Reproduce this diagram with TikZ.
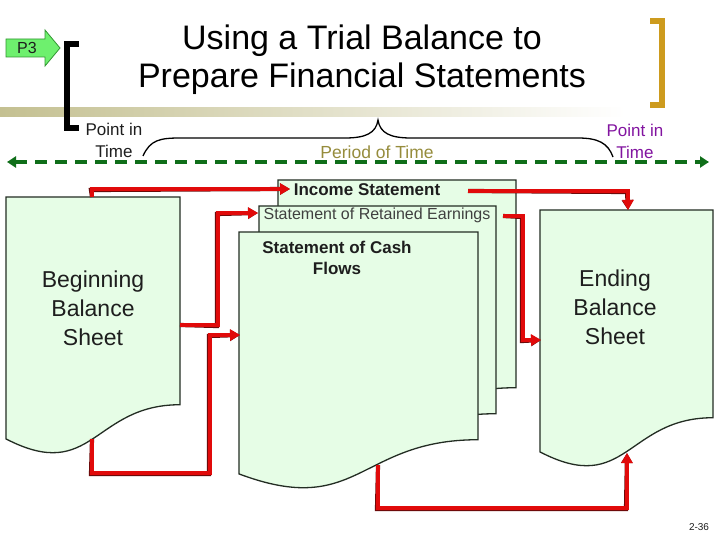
\documentclass[tikz,border=0pt]{standalone}
\usepackage{fontspec}
\setmainfont{Liberation Sans}
\usetikzlibrary{arrows.meta}
\definecolor{docfill}{RGB}{230,253,230}
\definecolor{docline}{RGB}{35,45,35}
\definecolor{redarr}{RGB}{225,10,10}
\definecolor{redshadow}{RGB}{110,10,10}
\definecolor{dgreen}{RGB}{15,110,25}
\definecolor{pgreen}{RGB}{110,240,110}
\definecolor{pgreenline}{RGB}{50,150,50}
\definecolor{gold}{RGB}{205,155,30}
\definecolor{olivetext}{RGB}{150,140,60}
\definecolor{purp}{RGB}{130,20,160}
\definecolor{khaki}{RGB}{196,192,145}
\definecolor{txt}{RGB}{30,30,30}
\newcommand\fsz[2]{\fontsize{#1}{#2}\selectfont}
% document shape: left x, top y, width, total height
\newcommand\docshape[4]{\filldraw[docstyle] (#1,#2) -- (#1+#3,#2) -- (#1+#3,#2+0.802*#4) .. controls (#1+0.5*#3,#2+0.802*#4) and (#1+0.5*#3,#2+1.1075*#4) .. (#1,#2+0.934*#4) -- cycle;}
\newcommand\redconn[1]{\draw[redshade] #1; \draw[redline] #1;}
\tikzset{
  docstyle/.style={fill=docfill, draw=docline, line width=1.3pt, line join=miter},
  redline/.style={line width=4.2pt, draw=redarr, -{Triangle[length=10pt,width=11pt]}},
  redshade/.style={line width=4.2pt, draw=redshadow, -{Triangle[length=10pt,width=11pt]}, xshift=-1pt, yshift=-1pt},
  doctext/.style={text=txt, align=center, inner sep=0pt},
}
\begin{document}
\begin{tikzpicture}[x=1pt,y=-1pt]
\useasboundingbox (0,0) rectangle (720,540);
\fill[white] (0,0) rectangle (720,540);

% khaki band
\shade[left color=khaki, middle color=khaki!55, right color=white] (0,108) rectangle (625,117);

% brackets
\draw[black, line width=6pt] (79,44) -- (66.5,44) -- (66.5,128) -- (79,128);
\draw[gold, line width=6pt] (650,21) -- (662,21) -- (662,105) -- (650,105);

% P3 arrow
\filldraw[fill=pgreen, draw=pgreenline, line width=0.8pt] (6,39) -- (45,39) -- (45,30) -- (60,48) -- (45,66) -- (45,57) -- (6,57) -- cycle;
\node[text=txt, inner sep=0pt, font=\fsz{16}{18}] (p3) at (27,48) {P3};

% title
\node[align=center, inner sep=0pt, font=\fsz{34}{38}] (title) at (362,60) {Using a Trial Balance to\\Prepare Financial Statements};

% time labels
\node[align=center, inner sep=0pt, text=txt, font=\fsz{17}{22}] (pitl) at (114,140) {Point in\\Time};
\node[align=center, inner sep=0pt, text=purp, font=\fsz{17}{22}] (pitr) at (635,141) {Point in\\Time};
\node[inner sep=0pt, text=olivetext, font=\fsz{17.5}{20}] (pot) at (377,152) {Period of Time};

% brace
\draw[black, line width=1.3pt] (143,156) .. controls (150,140) and (160,138) .. (180,138) -- (345,138) .. controls (366,138) and (376,133) .. (378,120) .. controls (380,133) and (390,138) .. (411,138) -- (578,138) .. controls (598,138) and (608,143) .. (613,157);

% time line
\coordinate (tl) at (7,162);
\coordinate (tr) at (709,162);
\draw[dgreen, line width=4pt, dash pattern=on 12pt off 8pt, {Triangle[length=9pt,width=11pt]}-{Triangle[length=9pt,width=11pt]}] (tl) -- (tr);

% stacked statements
\docshape{278}{180}{238}{259}
\docshape{259}{206}{237}{259}
\docshape{239}{232}{239}{259}
\node[doctext, font=\bfseries\fsz{17}{20}] (inc) at (367,190) {Income Statement};
\node[doctext, text=txt!85!white, font=\fsz{16}{18}] (ret) at (377,215) {Statement of Retained Earnings};
\node[doctext, font=\bfseries\fsz{17}{21}] (cash) at (337,257.5) {Statement of Cash\\Flows};

% balance sheets
\docshape{6}{197}{174}{259}
\docshape{540}{210}{173}{259}
\node[doctext, font=\fsz{23}{29}] (bbs) at (93,308) {Beginning\\Balance\\Sheet};
\node[doctext, font=\fsz{23}{29}] (ebs) at (615,307) {Ending\\Balance\\Sheet};

% connector points
\coordinate (bbsTop) at (92,197);
\coordinate (bbsRight) at (180,325);
\coordinate (bbsBot) at (92,439);
\coordinate (incIn) at (290,189);
\coordinate (retIn) at (258,213);
\coordinate (cashIn) at (240,335);
\coordinate (incOut) at (468,191);
\coordinate (retOut) at (503,216);
\coordinate (cashBot) at (378,465);
\coordinate (ebsTop) at (628,210);
\coordinate (ebsLeft) at (541,340);
\coordinate (ebsBot) at (627,453);

% red connectors
\redconn{(bbsTop) -- (92,189) -- (incIn)}
\redconn{(bbsRight) -- (218,325) -- (218,213) -- (retIn)}
\redconn{(bbsBot) -- (92,473) -- (210,473) -- (210,335) -- (cashIn)}
\redconn{(incOut) -- (628,191) -- (ebsTop)}
\redconn{(retOut) -- (523,216) -- (523,340) -- (ebsLeft)}
\redconn{(cashBot) -- (378,508) -- (627,508) -- (ebsBot)}

% page number
\node[text=txt, inner sep=0pt, font=\fsz{10}{12}] (pg) at (699,527) {2-36};
\end{tikzpicture}
\end{document}
